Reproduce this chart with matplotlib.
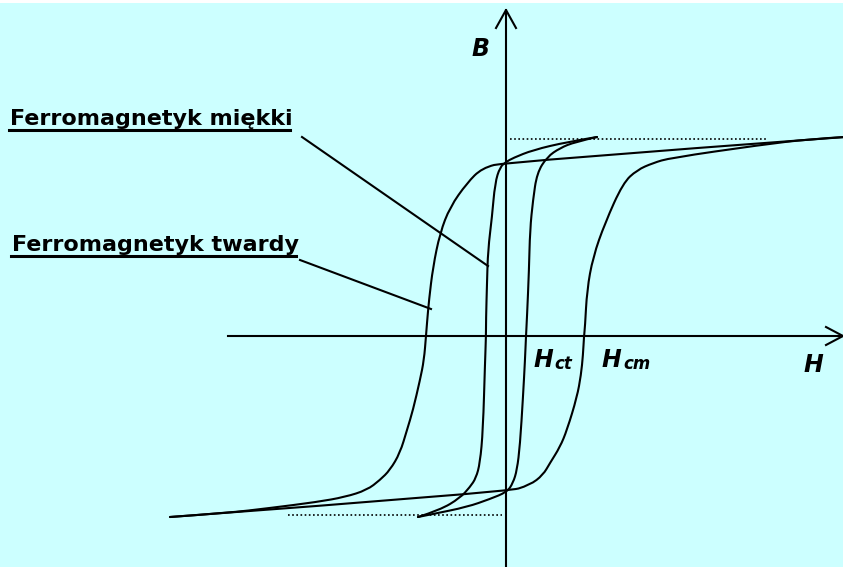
import matplotlib
matplotlib.use("Agg")
import matplotlib.pyplot as plt
from matplotlib.patches import Rectangle, PathPatch
from matplotlib.path import Path

# --- curve data (H, B), origin at the axis crossing ---
# hard ferromagnet: descending branch (from +Bs to -Bs)
hard_down_H = [339, 0, -24, -39, -56, -66, -73, -77, -79, -80, -82, -86, -93, -99,
               -106, -116, -126, -139, -161, -189, -236, -279, -336]
hard_down_B = [199, 174, 168, 153, 129, 103, 69, 36, 13, 0, -24, -44, -74, -94,
               -117, -134, -144, -154, -161, -166, -172, -177, -181]
# hard ferromagnet: ascending branch
hard_up_H = [-336, 1, 24, 37, 44, 54, 61, 71, 75, 77, 78, 79, 81, 87, 99, 117,
             131, 147, 164, 254, 304, 339]
hard_up_B = [-181, -156, -149, -139, -127, -111, -94, -61, -39, -19, 0, 9, 46, 79,
             113, 153, 166, 173, 178, 191, 197, 199]

# soft ferromagnet: descending branch
soft_down_H = [91, 61, 27, 7, 0, -6, -11, -14, -18, -19, -20, -20, -21, -23, -26,
               -30, -36, -46, -66, -88]
soft_down_B = [199, 194, 186, 178, 174, 169, 153, 119, 86, 53, 16, 0, -27, -94, -127,
               -142, -151, -162, -174, -181]
# soft ferromagnet: ascending branch
soft_up_H = [-88, -73, -39, -16, 1, 7, 11, 14, 17, 19, 20, 21, 23, 24, 27, 31, 41,
             54, 69, 91]
soft_up_B = [-181, -178, -171, -163, -156, -147, -134, -109, -61, -24, 0, 19, 66, 106,
             136, 163, 179, 188, 194, 199]

# saturation levels (dotted guides)
Bs_top = 197
Bs_top_H = [4, 262]
Bs_bot = -179
Bs_bot_H = [-218, -4]

labels = ["Ferromagnetyk miękki", "Ferromagnetyk twardy"]

BG = "#ccffff"
LW = 1.5


def smooth_branch(ax, hs, bs):
    # quadratic b-spline path through the read points (rendering only)
    pts = list(zip(hs, bs))
    verts = [pts[0]]
    codes = [Path.MOVETO]
    for i in range(1, len(pts) - 1):
        if i == len(pts) - 2:
            end = pts[-1]
        else:
            end = ((pts[i][0] + pts[i + 1][0]) / 2, (pts[i][1] + pts[i + 1][1]) / 2)
        verts += [pts[i], end]
        codes += [Path.CURVE3, Path.CURVE3]
    ax.add_patch(PathPatch(Path(verts, codes), facecolor="none", edgecolor="black",
                           lw=LW, capstyle="round", joinstyle="round"))


fig = plt.figure(figsize=(8.45, 5.67), dpi=100)
fig.patch.set_facecolor("white")
ax = fig.add_axes([0, 0, 843 / 845, 564 / 567])
ax.set_facecolor(BG)
ax.set_xlim(-506, 337)
ax.set_ylim(-231, 333)
ax.axis("off")
ax.add_patch(Rectangle((0, 0), 1, 1, transform=ax.transAxes, color=BG, zorder=0))

# axes with open arrowheads
ax.plot([0, 0], [-231, 326], color="black", lw=LW)
ax.plot([-10, 0, 10], [308, 326, 308], color="black", lw=LW)
ax.plot([-278, 337], [0, 0], color="black", lw=LW)
ax.plot([320, 337, 320], [9, 0, -9], color="black", lw=LW)

# hysteresis loops
smooth_branch(ax, hard_down_H, hard_down_B)
smooth_branch(ax, hard_up_H, hard_up_B)
smooth_branch(ax, soft_down_H, soft_down_B)
smooth_branch(ax, soft_up_H, soft_up_B)

# dotted saturation guides
ax.plot(Bs_top_H, [Bs_top, Bs_top], color="black", lw=1.2, ls=(0, (1, 1.5)))
ax.plot(Bs_bot_H, [Bs_bot, Bs_bot], color="black", lw=1.2, ls=(0, (1, 1.5)))

# labels with underline and leader lines
font = dict(family="DejaVu Sans", weight="bold", color="black")
ax.text(-496, 211, labels[0], fontsize=16, ha="left", va="baseline", **font)
ax.plot([-497, -216], [206, 206], color="black", lw=2.2)
ax.plot([-204, -18], [199, 70], color="black", lw=LW)

ax.text(-494, 85, labels[1], fontsize=16, ha="left", va="baseline", **font)
ax.plot([-495, -210], [80, 80], color="black", lw=2.2)
ax.plot([-206, -75], [76, 27], color="black", lw=LW)

# axis labels
ital = dict(family="DejaVu Sans", weight="bold", style="italic", color="black")
ax.text(-25, 280, "B", fontsize=17, ha="center", va="baseline", **ital)
ax.text(27, -31, "H", fontsize=17, ha="left", va="baseline", **ital)
ax.text(48, -33, "ct", fontsize=12, ha="left", va="baseline", **ital)
ax.text(96, -31, "H", fontsize=17, ha="left", va="baseline", **ital)
ax.text(117, -33, "cm", fontsize=12, ha="left", va="baseline", **ital)
ax.text(297, -36, "H", fontsize=17, ha="left", va="baseline", **ital)

fig.savefig("out.png", dpi=100, facecolor=fig.get_facecolor())
